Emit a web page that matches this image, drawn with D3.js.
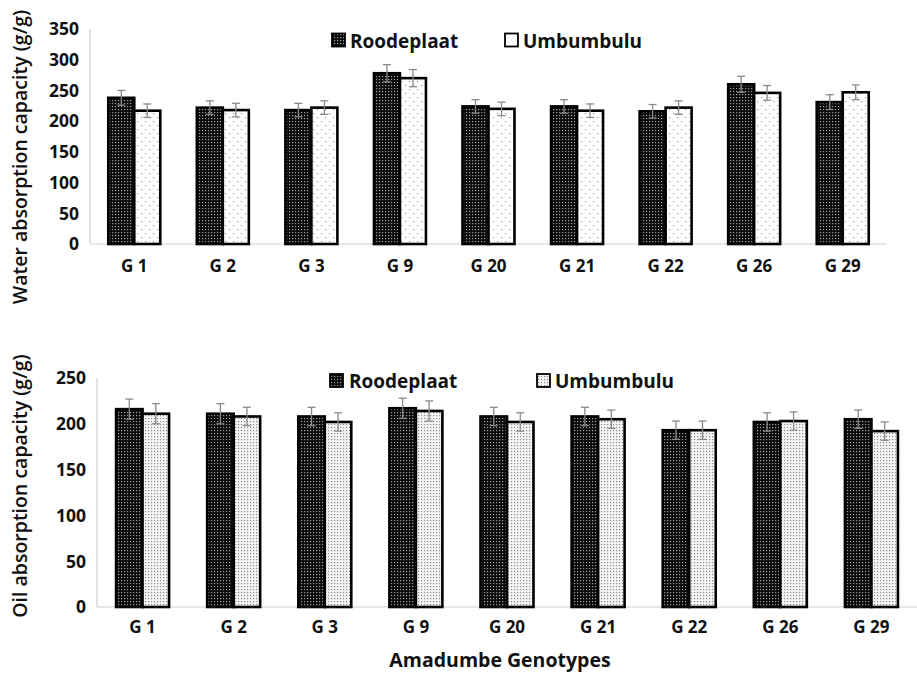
<!DOCTYPE html>
<html><head><meta charset="utf-8">
<script src="https://cdn.jsdelivr.net/npm/d3@7"></script>
<style>
html,body{margin:0;padding:0;background:#fff;}
svg text{font-family:"Open Sans","Noto Sans",sans-serif;fill:#111;}
</style></head>
<body><svg id="c" width="917" height="676"></svg>
<script>
const categories = ["G 1","G 2","G 3","G 9","G 20","G 21","G 22","G 26","G 29"];
const seriesNames = ["Roodeplaat","Umbumbulu"];
const waterRoodeplaat = [238,222,218,278,224,224,216,260,231];
const waterUmbumbulu  = [217,218,222,270,220,217,222,246,247];
const waterRoodeplaatErr = [12,11,11,14,11,11,11,13,12];
const waterUmbumbuluErr  = [11,11,11,14,11,11,11,12,12];
const oilRoodeplaat = [216,211,208,217,208,208,193,202,205];
const oilUmbumbulu  = [211,208,202,214,202,205,193,203,192];
const oilRoodeplaatErr = [11,11,10,11,10,10,10,10,10];
const oilUmbumbuluErr  = [11,10,10,11,10,10,10,10,10];
const waterTicks = [0,50,100,150,200,250,300,350];
const oilTicks = [0,50,100,150,200,250];

const svg = d3.select("#c");
const defs = svg.append("defs");
let p = defs.append("pattern").attr("id","dark").attr("patternUnits","userSpaceOnUse").attr("width",3).attr("height",3);
p.append("rect").attr("width",3).attr("height",3).attr("fill","#0a0a0a");
p.append("rect").attr("x",1).attr("y",1).attr("width",1.2).attr("height",1.2).attr("fill","#a0a0a0");
p = defs.append("pattern").attr("id","lightSparse").attr("patternUnits","userSpaceOnUse").attr("width",8).attr("height",8);
p.append("rect").attr("width",8).attr("height",8).attr("fill","#fff");
p.append("rect").attr("x",1).attr("y",1).attr("width",1.2).attr("height",1.2).attr("fill","#9a9a9a");
p.append("rect").attr("x",5).attr("y",5).attr("width",1.2).attr("height",1.2).attr("fill","#9a9a9a");
p = defs.append("pattern").attr("id","lightDense").attr("patternUnits","userSpaceOnUse").attr("width",3).attr("height",3);
p.append("rect").attr("width",3).attr("height",3).attr("fill","#f4f4f4");
p.append("rect").attr("x",1).attr("y",1).attr("width",1.2).attr("height",1.2).attr("fill","#8c8c8c");

function panel(cfg){
  const x = d3.scaleBand().domain(categories).range([cfg.x0,cfg.x1]).paddingInner(0).paddingOuter(0);
  const y = d3.scaleLinear().domain([0,cfg.max]).range([cfg.y0,cfg.yTop]);
  const g = svg.append("g");
  g.append("line").attr("x1",cfg.x0).attr("x2",cfg.x0).attr("y1",y(cfg.max)).attr("y2",y(0)).attr("stroke","#d0d0d0").attr("stroke-width",1.2);
  g.append("line").attr("x1",cfg.x0).attr("x2",cfg.x1).attr("y1",y(0)).attr("y2",y(0)).attr("stroke","#d0d0d0").attr("stroke-width",1.2);
  g.selectAll(".yt").data(cfg.ticks).enter().append("text")
    .attr("x",cfg.x0-11).attr("y",d=>y(d)).attr("dy","0.36em").attr("text-anchor","end")
    .attr("font-size",17.5).attr("font-weight","bold").text(d=>d);
  g.selectAll(".xt").data(categories).enter().append("text")
    .attr("x",d=>x(d)+x.bandwidth()/2).attr("y",cfg.xLabelY).attr("text-anchor","middle")
    .attr("font-size",17).attr("font-weight","bold").text(d=>d);
  const bw = cfg.bw;
  const series = [
    {vals:cfg.r, err:cfg.rErr, fill:"url(#dark)", off:-bw},
    {vals:cfg.u, err:cfg.uErr, fill:cfg.lightFill, off:0}
  ];
  series.forEach(s=>{
    g.selectAll(null).data(categories).enter().append("rect")
      .attr("x",(d)=>x(d)+x.bandwidth()/2+s.off)
      .attr("y",(d,i)=>y(s.vals[i]))
      .attr("width",bw).attr("height",(d,i)=>y(0)-y(s.vals[i]))
      .attr("fill",s.fill).attr("stroke","#000").attr("stroke-width",2.6);
  });
  series.forEach(s=>{
    categories.forEach((c,i)=>{
      const cx = x(c)+x.bandwidth()/2+s.off+bw/2;
      const hi = y(s.vals[i]+s.err[i]), lo = y(s.vals[i]-s.err[i]);
      g.append("line").attr("x1",cx).attr("x2",cx).attr("y1",hi).attr("y2",lo).attr("stroke","#8a8a8a").attr("stroke-width",1.3);
      g.append("line").attr("x1",cx-4).attr("x2",cx+4).attr("y1",hi).attr("y2",hi).attr("stroke","#8a8a8a").attr("stroke-width",1.3);
      g.append("line").attr("x1",cx-4).attr("x2",cx+4).attr("y1",lo).attr("y2",lo).attr("stroke","#8a8a8a").attr("stroke-width",1.3);
    });
  });
  g.append("text").attr("transform",`translate(${cfg.titleX},${cfg.titleY}) rotate(-90)`)
    .attr("text-anchor","middle").attr("font-size",19.5).attr("font-weight",600).text(cfg.title);
  const fills = ["url(#dark)", cfg.legendLightFill];
  cfg.legend.forEach((l,i)=>{
    g.append("rect").attr("x",l.sx).attr("y",l.sy).attr("width",13).attr("height",13)
      .attr("fill",fills[i]).attr("stroke","#000").attr("stroke-width",1.8);
    g.append("text").attr("x",l.tx).attr("y",l.sy+14).attr("font-size",19).attr("font-weight","bold").text(seriesNames[i]);
  });
}

panel({x0:90,x1:887,y0:244,yTop:29,max:350,ticks:waterTicks,xLabelY:272,bw:26,
  r:waterRoodeplaat,u:waterUmbumbulu,rErr:waterRoodeplaatErr,uErr:waterUmbumbuluErr,
  lightFill:"url(#lightSparse)",legendLightFill:"#fff",
  title:"Water absorption capacity (g/g)",titleX:27,titleY:157,
  legend:[{sx:332,sy:33.5,tx:350},{sx:505,sy:33.5,tx:523}]});

panel({x0:97,x1:917,y0:607,yTop:378,max:250,ticks:oilTicks,xLabelY:633,bw:26.5,
  r:oilRoodeplaat,u:oilUmbumbulu,rErr:oilRoodeplaatErr,uErr:oilUmbumbuluErr,
  lightFill:"url(#lightDense)",legendLightFill:"url(#lightDense)",
  title:"Oil absorption capacity (g/g)",titleX:27,titleY:486,
  legend:[{sx:330,sy:374,tx:349},{sx:537,sy:374,tx:555}]});

svg.append("text").attr("x",500).attr("y",667).attr("text-anchor","middle")
  .attr("font-size",19.5).attr("font-weight","bold").text("Amadumbe Genotypes");
</script></body></html>
